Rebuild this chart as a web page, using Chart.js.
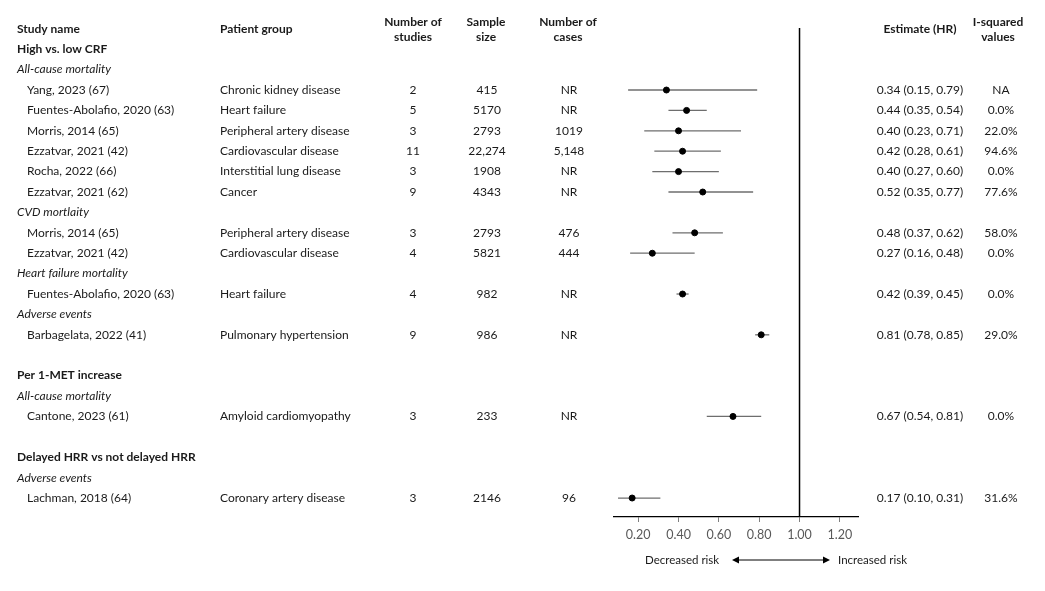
<!DOCTYPE html>
<html>
<head>
<meta charset="utf-8">
<script src="https://cdn.jsdelivr.net/npm/chart.js@4.4.1/dist/chart.umd.min.js"></script>
<style>
  body { margin: 0; background: #fff; }
  #wrap { width: 1045px; height: 591px; position: relative; }
</style>
</head>
<body>
<div id="wrap"><canvas id="forest"></canvas></div>
<script>
// 研究ごとのデータ
const studyNames = ['Yang, 2023 (67)', 'Fuentes-Abolafio, 2020 (63)', 'Morris, 2014 (65)', 'Ezzatvar, 2021 (42)',
  'Rocha, 2022 (66)', 'Ezzatvar, 2021 (62)', 'Morris, 2014 (65)', 'Ezzatvar, 2021 (42)',
  'Fuentes-Abolafio, 2020 (63)', 'Barbagelata, 2022 (41)', 'Cantone, 2023 (61)', 'Lachman, 2018 (64)'];
const studyRows = [0, 1, 2, 3, 4, 5, 7, 8, 10, 12, 16, 20];
const patientGroups = ['Chronic kidney disease', 'Heart failure', 'Peripheral artery disease', 'Cardiovascular disease',
  'Interstitial lung disease', 'Cancer', 'Peripheral artery disease', 'Cardiovascular disease',
  'Heart failure', 'Pulmonary hypertension', 'Amyloid cardiomyopathy', 'Coronary artery disease'];
const numStudies = ['2', '5', '3', '11', '3', '9', '3', '4', '4', '9', '3', '3'];
const sampleSizes = ['415', '5170', '2793', '22,274', '1908', '4343', '2793', '5821', '982', '986', '233', '2146'];
const numCases = ['NR', 'NR', '1019', '5,148', 'NR', 'NR', '476', '444', 'NR', 'NR', 'NR', '96'];
const hrEst = [0.34, 0.44, 0.40, 0.42, 0.40, 0.52, 0.48, 0.27, 0.42, 0.81, 0.67, 0.17];
const hrLow = [0.15, 0.35, 0.23, 0.28, 0.27, 0.35, 0.37, 0.16, 0.39, 0.78, 0.54, 0.10];
const hrHigh = [0.79, 0.54, 0.71, 0.61, 0.60, 0.77, 0.62, 0.48, 0.45, 0.85, 0.81, 0.31];
const iSquared = ['NA', '0.0%', '22.0%', '94.6%', '0.0%', '77.6%', '58.0%', '0.0%', '0.0%', '29.0%', '0.0%', '31.6%'];

// 見出し
const groupTitles = ['High vs. low CRF', 'Per 1-MET increase', 'Delayed HRR vs not delayed HRR'];
const groupRows = [-2, 14, 18];
const subTitles = ['All-cause mortality', 'CVD mortlaity', 'Heart failure mortality', 'Adverse events',
  'All-cause mortality', 'Adverse events'];
const subRows = [-1, 6, 9, 11, 15, 19];

const xTicks = [0.2, 0.4, 0.6, 0.8, 1.0, 1.2];

const FONT = 'Lato, "Open Sans", sans-serif';
const TEXT = '#1a1a1a';

// テキスト列・信頼区間・矢印を描くプラグイン
const forestPlugin = {
  id: 'forest',
  beforeDatasetsDraw(chart) {
    const { ctx, scales: { x, y }, chartArea } = chart;
    ctx.save();
    // 1.00 の基準線
    ctx.strokeStyle = '#000';
    ctx.lineWidth = 1.5;
    ctx.beginPath();
    ctx.moveTo(x.getPixelForValue(1), chartArea.top);
    ctx.lineTo(x.getPixelForValue(1), chartArea.bottom);
    ctx.stroke();
    // 信頼区間
    ctx.strokeStyle = '#6e6e6e';
    ctx.lineWidth = 1.3;
    hrEst.forEach((v, i) => {
      const py = y.getPixelForValue(studyRows[i]);
      ctx.beginPath();
      ctx.moveTo(x.getPixelForValue(hrLow[i]), py);
      ctx.lineTo(x.getPixelForValue(hrHigh[i]), py);
      ctx.stroke();
    });
    ctx.restore();
  },
  afterDraw(chart) {
    const { ctx, scales: { x, y } } = chart;
    ctx.save();
    ctx.fillStyle = TEXT;
    ctx.textBaseline = 'middle';
    const put = (txt, px, py, align, style, size) => {
      ctx.font = style + ' ' + (size || 12) + 'px ' + FONT;
      ctx.textAlign = align;
      ctx.fillText(txt, px, py);
    };
    // 列見出し
    const hy = y.getPixelForValue(-3);
    put('Study name', 17, hy, 'left', 'bold');
    put('Patient group', 220, hy, 'left', 'bold');
    put('Number of', 413, hy - 7, 'center', 'bold');
    put('studies', 413, hy + 8, 'center', 'bold');
    put('Sample', 486, hy - 7, 'center', 'bold');
    put('size', 486, hy + 8, 'center', 'bold');
    put('Number of', 568, hy - 7, 'center', 'bold');
    put('cases', 568, hy + 8, 'center', 'bold');
    put('Estimate (HR)', 920, hy, 'center', 'bold');
    put('I-squared', 998, hy - 7, 'center', 'bold');
    put('values', 998, hy + 8, 'center', 'bold');

    groupTitles.forEach((t, i) => put(t, 17, y.getPixelForValue(groupRows[i]), 'left', 'bold'));
    subTitles.forEach((t, i) => put(t, 17, y.getPixelForValue(subRows[i]), 'left', 'italic'));

    studyNames.forEach((name, i) => {
      const py = y.getPixelForValue(studyRows[i]);
      put(name, 27, py, 'left', 'normal');
      put(patientGroups[i], 220, py, 'left', 'normal');
      put(numStudies[i], 413, py, 'center', 'normal');
      put(sampleSizes[i], 487, py, 'center', 'normal');
      put(numCases[i], 569, py, 'center', 'normal');
      put(hrEst[i].toFixed(2) + ' (' + hrLow[i].toFixed(2) + ', ' + hrHigh[i].toFixed(2) + ')', 920, py, 'center', 'normal');
      put(iSquared[i], 1001, py, 'center', 'normal');
    });

    // 下部の矢印
    const ay = 560;
    put('Decreased risk', 645, ay, 'left', 'normal', 11.5);
    put('Increased risk', 838, ay, 'left', 'normal', 11.5);
    ctx.strokeStyle = '#000';
    ctx.lineWidth = 1;
    ctx.beginPath();
    ctx.moveTo(735, ay);
    ctx.lineTo(827, ay);
    ctx.stroke();
    ctx.fillStyle = '#000';
    ctx.beginPath();
    ctx.moveTo(732, ay); ctx.lineTo(739, ay - 3.5); ctx.lineTo(739, ay + 3.5); ctx.closePath();
    ctx.fill();
    ctx.beginPath();
    ctx.moveTo(830, ay); ctx.lineTo(823, ay - 3.5); ctx.lineTo(823, ay + 3.5); ctx.closePath();
    ctx.fill();
    ctx.restore();
  }
};

new Chart(document.getElementById('forest'), {
  type: 'scatter',
  data: {
    datasets: [{
      data: hrEst.map((v, i) => ({ x: v, y: studyRows[i] })),
      backgroundColor: '#000',
      borderColor: '#000',
      pointRadius: 3,
      pointHoverRadius: 3
    }]
  },
  options: {
    responsive: true,
    maintainAspectRatio: false,
    animation: false,
    layout: { padding: { left: 614, right: 187, top: 28, bottom: 0 } },
    plugins: {
      legend: { display: false },
      tooltip: { enabled: false }
    },
    scales: {
      x: {
        type: 'linear',
        min: 0.08,
        max: 1.29,
        afterBuildTicks: (scale) => { scale.ticks = xTicks.map(v => ({ value: v })); },
        afterFit: (scale) => { scale.height = 74; },
        border: { color: '#000', width: 1.3 },
        grid: { drawOnChartArea: false, drawTicks: true, tickLength: 5, color: '#7f7f7f' },
        ticks: {
          color: '#595959',
          font: { family: FONT, size: 12.5 },
          padding: 5,
          maxRotation: 0,
          callback: (v) => Number(v).toFixed(2)
        }
      },
      y: {
        type: 'linear',
        display: false,
        reverse: true,
        min: -3.04,
        max: 20.93
      }
    }
  },
  plugins: [forestPlugin]
});
</script>
</body>
</html>
